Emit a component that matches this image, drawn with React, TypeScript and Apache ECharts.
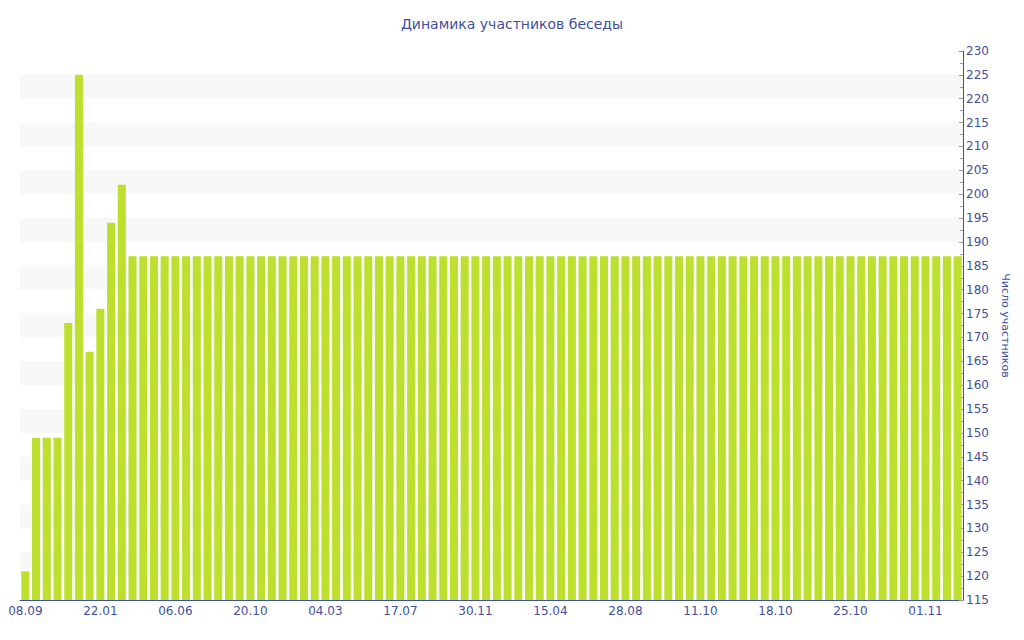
import React, { useEffect, useRef } from "react";
import * as echarts from "echarts";

const titleText = "Динамика участников беседы";
const yAxisName = "Число участников";

const dates: string[] = [
  "08.09.2014", "28.09.2014", "17.10.2014", "06.11.2014", "25.11.2014", "15.12.2014", "03.01.2015",
  "22.01.2015", "11.02.2015", "02.03.2015", "22.03.2015", "10.04.2015", "30.04.2015", "19.05.2015",
  "06.06.2015", "26.06.2015", "15.07.2015", "04.08.2015", "23.08.2015", "12.09.2015", "01.10.2015",
  "20.10.2015", "09.11.2015", "28.11.2015", "18.12.2015", "06.01.2016", "26.01.2016", "14.02.2016",
  "04.03.2016", "24.03.2016", "12.04.2016", "02.05.2016", "21.05.2016", "09.06.2016", "28.06.2016",
  "17.07.2016", "06.08.2016", "25.08.2016", "14.09.2016", "03.10.2016", "23.10.2016", "11.11.2016",
  "30.11.2016", "20.12.2016", "08.01.2017", "28.01.2017", "16.02.2017", "07.03.2017", "26.03.2017",
  "15.04.2017", "05.05.2017", "24.05.2017", "13.06.2017", "02.07.2017", "22.07.2017", "09.08.2017",
  "28.08.2017", "04.09.2017", "10.09.2017", "17.09.2017", "23.09.2017", "30.09.2017", "05.10.2017",
  "11.10.2017", "12.10.2017", "13.10.2017", "14.10.2017", "15.10.2017", "16.10.2017", "17.10.2017",
  "18.10.2017", "19.10.2017", "20.10.2017", "21.10.2017", "22.10.2017", "23.10.2017", "24.10.2017",
  "25.10.2017", "26.10.2017", "27.10.2017", "28.10.2017", "29.10.2017", "30.10.2017", "31.10.2017",
  "01.11.2017", "02.11.2017", "03.11.2017", "04.11.2017",
];

const members: number[] = [
  121, 149, 149, 149, 173, 225, 167, 176, 194, 202,
  187, 187, 187, 187, 187, 187, 187, 187, 187, 187,
  187, 187, 187, 187, 187, 187, 187, 187, 187, 187,
  187, 187, 187, 187, 187, 187, 187, 187, 187, 187,
  187, 187, 187, 187, 187, 187, 187, 187, 187, 187,
  187, 187, 187, 187, 187, 187, 187, 187, 187, 187,
  187, 187, 187, 187, 187, 187, 187, 187, 187, 187,
  187, 187, 187, 187, 187, 187, 187, 187, 187, 187,
  187, 187, 187, 187, 187, 187, 187, 187,
];

const yMin = 115;
const yMax = 230;
const yStep = 5;

const FONT = "DejaVu Sans, Verdana, sans-serif";
const BLUE = "#3f509c";

export default function App() {
  const ref = useRef<HTMLDivElement>(null);
  useEffect(() => {
    if (!ref.current) return;
    const chart = echarts.init(ref.current, undefined, { renderer: "svg" });
    chart.setOption({
      animation: false,
      backgroundColor: "#ffffff",
      title: {
        text: titleText,
        left: "center",
        top: 12,
        textStyle: { color: BLUE, fontFamily: FONT, fontSize: 14, fontWeight: "normal" },
      },
      grid: { left: 20, right: 61, top: 51, bottom: 40, containLabel: false },
      xAxis: {
        type: "category",
        data: dates,
        axisLine: { lineStyle: { color: BLUE, width: 1 } },
        axisTick: { alignWithLabel: true, interval: 6, length: 3, lineStyle: { color: "#aaaaaa" } },
        axisLabel: {
          interval: 6,
          color: BLUE,
          fontFamily: FONT,
          fontSize: 12,
          margin: 5,
          formatter: (v: string) => v.slice(0, 5),
        },
        splitLine: { show: false },
      },
      yAxis: {
        type: "value",
        position: "right",
        min: yMin,
        max: yMax,
        interval: yStep,
        name: yAxisName,
        nameLocation: "middle",
        nameRotate: -90,
        nameGap: 37,
        nameTextStyle: { color: BLUE, fontFamily: FONT, fontSize: 11 },
        axisLine: { show: true, lineStyle: { color: BLUE, width: 1 } },
        axisTick: { show: true, inside: true, length: 4, lineStyle: { color: "#999999" } },
        minorTick: { show: true, splitNumber: 2, length: 3, lineStyle: { color: "#999999" } },
        axisLabel: { color: BLUE, fontFamily: FONT, fontSize: 12, margin: 3 },
        splitLine: { show: false },
        splitArea: { show: true, areaStyle: { color: ["rgba(255,255,255,0)", "#f8f8f8"] } },
      },
      series: [
        {
          type: "bar",
          data: members,
          barCategoryGap: "25%",
          itemStyle: { color: "#bde02f" },
        },
      ],
    });
    return () => chart.dispose();
  }, []);
  return <div ref={ref} style={{ width: 1024, height: 640, position: "absolute", left: 0, top: 0 }} />;
}
